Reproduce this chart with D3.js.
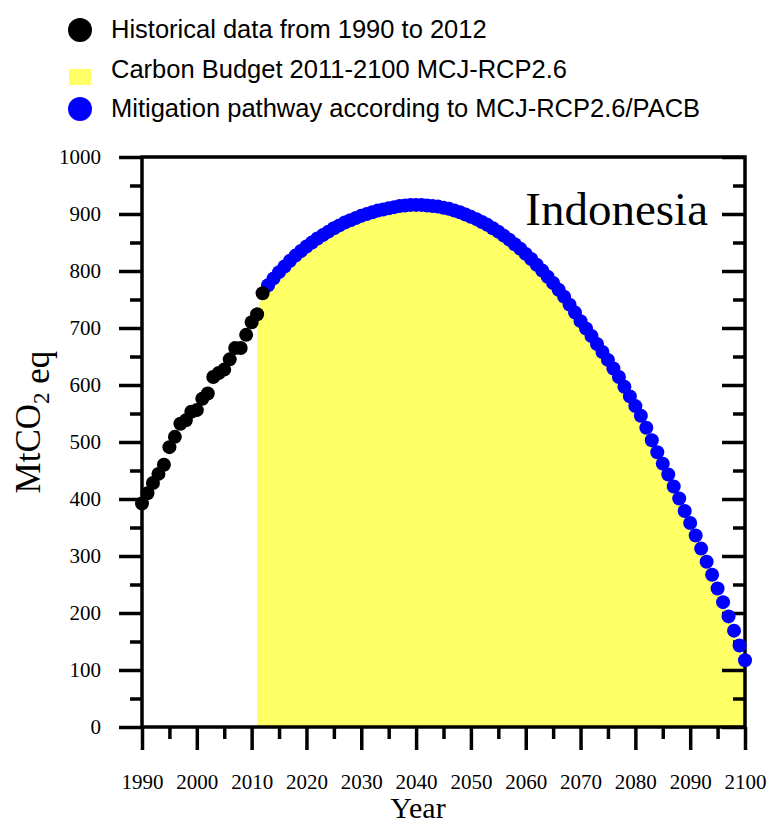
<!DOCTYPE html>
<html>
<head>
<meta charset="utf-8">
<script src="https://cdn.jsdelivr.net/npm/d3@7"></script>
<style>
  body { margin: 0; background: #fff; }
  svg { display: block; }
</style>
</head>
<body>
<div id="chart"></div>
<script>
// historical emissions 1990-2012 (MtCO2 eq)
const histStart = 1990;
const histValues = [392, 410, 428, 444, 460, 491, 509, 532, 538, 553, 556, 576,
  585, 614, 621, 627, 645, 665, 665, 688, 710, 724, 761];

// mitigation pathway 2013-2100
const pathStart = 2013;
const pathValues = [
  775, 787, 798, 808, 818, 827, 835, 843, 850, 857,   // 2013-2022
  863, 869, 875, 880, 885, 889, 893, 897, 900, 903,   // 2023-2032
  906, 908, 910, 912, 914, 915, 916, 916, 916, 915,   // 2033-2042
  914, 913, 911, 909, 906, 903, 899, 895, 891, 886,   // 2043-2052
  881, 875, 869, 862, 855, 847, 839, 830, 821, 811,   // 2053-2062
  801, 790, 779, 767, 755, 741, 727, 712, 699, 686,   // 2063-2072
  672, 658, 644, 629, 614, 597, 580, 563, 546, 525,   // 2073-2082
  503, 482, 462, 443, 422, 401, 379, 358, 336, 313,   // 2083-2092
  290, 267, 243, 219, 194, 169, 143, 117              // 2093-2100
];

// carbon budget area starts in 2011
const budgetStart = 2011;

const xTicks = [1990, 2000, 2010, 2020, 2030, 2040, 2050, 2060, 2070, 2080, 2090, 2100];
const yTicks = [0, 100, 200, 300, 400, 500, 600, 700, 800, 900, 1000];

const legendItems = [
  'Historical data from 1990 to 2012',
  'Carbon Budget 2011-2100 MCJ-RCP2.6',
  'Mitigation pathway according to MCJ-RCP2.6/PACB',
];

const attrs = o => s => { Object.keys(o).forEach(k => s.attr(k, o[k])); return s; };

const W = 769, H = 822;
const plot = { left: 142, right: 745, top: 157, bottom: 727 };

const hist = histValues.map((v, i) => ({ year: histStart + i, value: v }));
const path = pathValues.map((v, i) => ({ year: pathStart + i, value: v }));
const budget = hist.filter(d => d.year >= budgetStart).concat(path);

const x = d3.scaleLinear().domain([1990, 2100]).range([plot.left, plot.right]);
const y = d3.scaleLinear().domain([0, 1000]).range([plot.bottom, plot.top]);

const svg = d3.select('#chart').append('svg')
  .call(attrs({ width: W, height: H }));

const serif = '"Liberation Serif", "Times New Roman", serif';
const sans = '"Liberation Sans", Arial, sans-serif';
const lw = 3.5;

// 1. yellow budget area
svg.append('path')
  .datum(budget)
  .call(attrs({
    fill: '#ffff66',
    d: d3.area().x(d => x(d.year)).y0(y(0)).y1(d => y(d.value)),
  }));

// 2. axes
const major = 23, minor = 12;

function styleAxis(g) {
  g.select('.domain').remove();
  g.selectAll('line').attr('stroke', '#000').attr('stroke-width', lw);
  g.selectAll('text').attr('fill', '#000').style('font-family', serif).style('font-size', '21px');
}

svg.append('g')
  .attr('transform', `translate(0,${plot.bottom})`)
  .call(d3.axisBottom(x).tickValues(d3.range(1995, 2100, 10)).tickSize(minor).tickFormat(''))
  .call(styleAxis);
svg.append('g')
  .attr('transform', `translate(0,${plot.bottom})`)
  .call(d3.axisBottom(x).tickValues(xTicks).tickSize(major).tickPadding(24).tickFormat(d3.format('d')))
  .call(styleAxis);

svg.append('g')
  .attr('transform', `translate(${plot.left},0)`)
  .call(d3.axisLeft(y).tickValues(d3.range(50, 1000, 100)).tickSize(minor).tickFormat(''))
  .call(styleAxis);
svg.append('g')
  .attr('transform', `translate(${plot.left},0)`)
  .call(d3.axisLeft(y).tickValues(yTicks).tickSize(major).tickPadding(18).tickFormat(d3.format('d')))
  .call(styleAxis);

// right side, ticks inward
svg.append('g')
  .attr('transform', `translate(${plot.right},0)`)
  .call(d3.axisLeft(y).tickValues(d3.range(50, 1000, 100)).tickSize(minor).tickFormat(''))
  .call(styleAxis);
svg.append('g')
  .attr('transform', `translate(${plot.right},0)`)
  .call(d3.axisLeft(y).tickValues(yTicks).tickSize(major).tickFormat(''))
  .call(styleAxis);

// frame
svg.append('rect')
  .call(attrs({
    x: plot.left, y: plot.top,
    width: plot.right - plot.left, height: plot.bottom - plot.top,
    fill: 'none', stroke: '#000', 'stroke-width': lw,
  }));

// 3. dots
svg.append('g').selectAll('circle')
  .data(path).enter().append('circle')
  .call(attrs({ cx: d => x(d.year), cy: d => y(d.value), r: 7, fill: '#0000ff' }));

svg.append('g').selectAll('circle')
  .data(hist).enter().append('circle')
  .call(attrs({ cx: d => x(d.year), cy: d => y(d.value), r: 7, fill: '#000' }));

// 4. titles
svg.append('text')
  .call(attrs({ x: 708, y: 225, 'text-anchor': 'end', fill: '#000' }))
  .style('font-family', serif).style('font-size', '47px')
  .text('Indonesia');

svg.append('text')
  .call(attrs({ x: 418, y: 818, 'text-anchor': 'middle', fill: '#000' }))
  .style('font-family', serif).style('font-size', '30px')
  .text('Year');

const yt = svg.append('text')
  .call(attrs({ transform: 'translate(40,422) rotate(-90)', 'text-anchor': 'middle', fill: '#000' }))
  .style('font-family', serif).style('font-size', '35px');
yt.append('tspan').text('MtCO');
yt.append('tspan').attr('dy', 9).style('font-size', '23px').text('2');
yt.append('tspan').text(' eq');

// 5. legend
const legend = svg.append('g');
const rowY = [30, 77, 109];
legend.append('circle').call(attrs({ cx: 80, cy: rowY[0], r: 12, fill: '#000' }));
legend.append('rect').call(attrs({ x: 69, y: rowY[1] - 8, width: 22, height: 16, fill: '#ffff66' }));
legend.append('circle').call(attrs({ cx: 80, cy: rowY[2], r: 12, fill: '#0000ff' }));

legend.selectAll('text')
  .data(legendItems).enter().append('text')
  .call(attrs({ x: 111, y: (d, i) => [38, 78, 117][i], fill: '#000' }))
  .style('font-family', sans).style('font-size', '25.5px')
  .text(d => d);
</script>
</body>
</html>
